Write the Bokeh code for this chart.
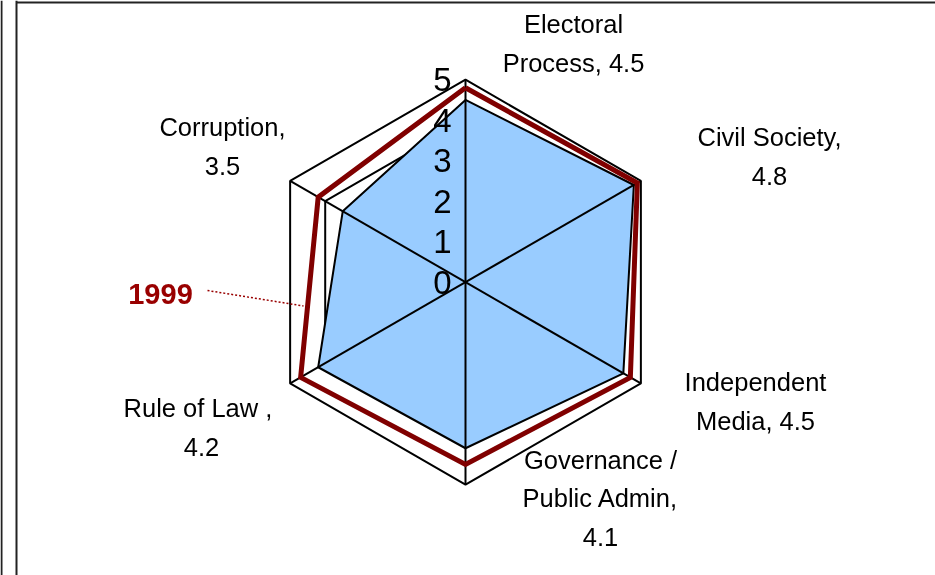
import numpy as np
from bokeh.plotting import figure
from bokeh.models import Range1d
from bokeh.core.properties import value
from bokeh.embed import file_html
from bokeh.resources import INLINE

# ---------------- data ----------------
categories = ["Electoral Process", "Civil Society", "Independent Media",
              "Governance / Public Admin", "Rule of Law", "Corruption"]
current_values = [4.5, 4.8, 4.5, 4.1, 4.2, 3.5]
values_1999 = [4.8, 4.9, 4.7, 4.5, 4.7, 4.2]
label_texts = ["Electoral\nProcess, 4.5", "Civil Society,\n4.8", "Independent\nMedia, 4.5",
               "Governance /\nPublic Admin,\n4.1", "Rule of  Law ,\n4.2", "Corruption,\n3.5"]
tick_values = [0, 1, 2, 3, 4, 5]
tick_labels = ["0", "1", "2", "3", "4", "5"]
series_label = "1999"

# ---------------- layout ----------------
W, H = 935, 575
CX, CY = 465.0, 281.7      # centre of radar in page pixels
S = 40.5                   # pixels per unit
FONT = "Liberation Sans"

def px(x):
    return (x - CX) / S

def py(y):
    return (CY - y) / S

angles = np.deg2rad(90 - 60 * np.arange(len(categories)))

def polar(vals):
    v = np.asarray(vals, dtype=float)
    return list(v * np.cos(angles)), list(v * np.sin(angles))

p = figure(width=W, height=H, output_backend="svg", toolbar_location=None,
           x_range=Range1d(px(0), px(W)), y_range=Range1d(py(H), py(0)),
           min_border=0, min_border_left=0, min_border_right=0,
           min_border_top=0, min_border_bottom=0,
           styles={"position": "fixed", "left": "0px", "top": "0px"})
p.axis.visible = False
p.grid.visible = False
p.outline_line_color = None
p.background_fill_color = "white"
p.border_fill_color = "white"

# frame lines
p.segment(x0=[px(1), px(16), px(16)], y0=[py(0), py(0), py(2)],
          x1=[px(1), px(16), px(W)], y1=[py(H), py(H), py(2)],
          line_color="#222222", line_width=2)

# grid hexagons
for t in tick_values[1:]:
    gx, gy = polar([t] * len(categories))
    p.patch(gx + [gx[0]], gy + [gy[0]], fill_color=None, line_color="black", line_width=2)

# current series (filled)
cx_, cy_ = polar(current_values)
p.patch(cx_, cy_, fill_color="#99CCFF", line_color="black", line_width=2)

# spokes
ox, oy = polar([tick_values[-1]] * len(categories))
p.segment(x0=[0] * len(ox), y0=[0] * len(oy), x1=ox, y1=oy, line_color="black", line_width=2)

# 1999 series
rx, ry = polar(values_1999)
p.line(rx + [rx[0]], ry + [ry[0]], line_color="#800000", line_width=5, line_join="miter")

# radial tick labels
p.text(x=[px(451)] * len(tick_values), y=list(tick_values), text=tick_labels,
       text_font=value(FONT), text_font_size="33px", text_align="right",
       text_baseline="middle", text_color="black")

# category labels
label_px = [(573, 43), (769, 156), (755, 401), (600, 498), (201, 427), (222, 146)]
p.text(x=[px(a) for a, b in label_px], y=[py(b) for a, b in label_px], text=label_texts,
       text_font=value(FONT), text_font_size="25.5px", text_align="center",
       text_baseline="middle", text_line_height=1.38, text_color="black")

# 1999 label and leader
p.text(x=[px(160)], y=[py(293)], text=[series_label], text_font=value(FONT),
       text_font_size="29px", text_font_style="bold", text_align="center",
       text_baseline="middle", text_color="#990000")
p.line([px(207), px(303)], [py(290), py(305.5)], line_color="#990000",
       line_width=1.5, line_dash="2 2")

open("out.html", "w").write(file_html(p, INLINE))
